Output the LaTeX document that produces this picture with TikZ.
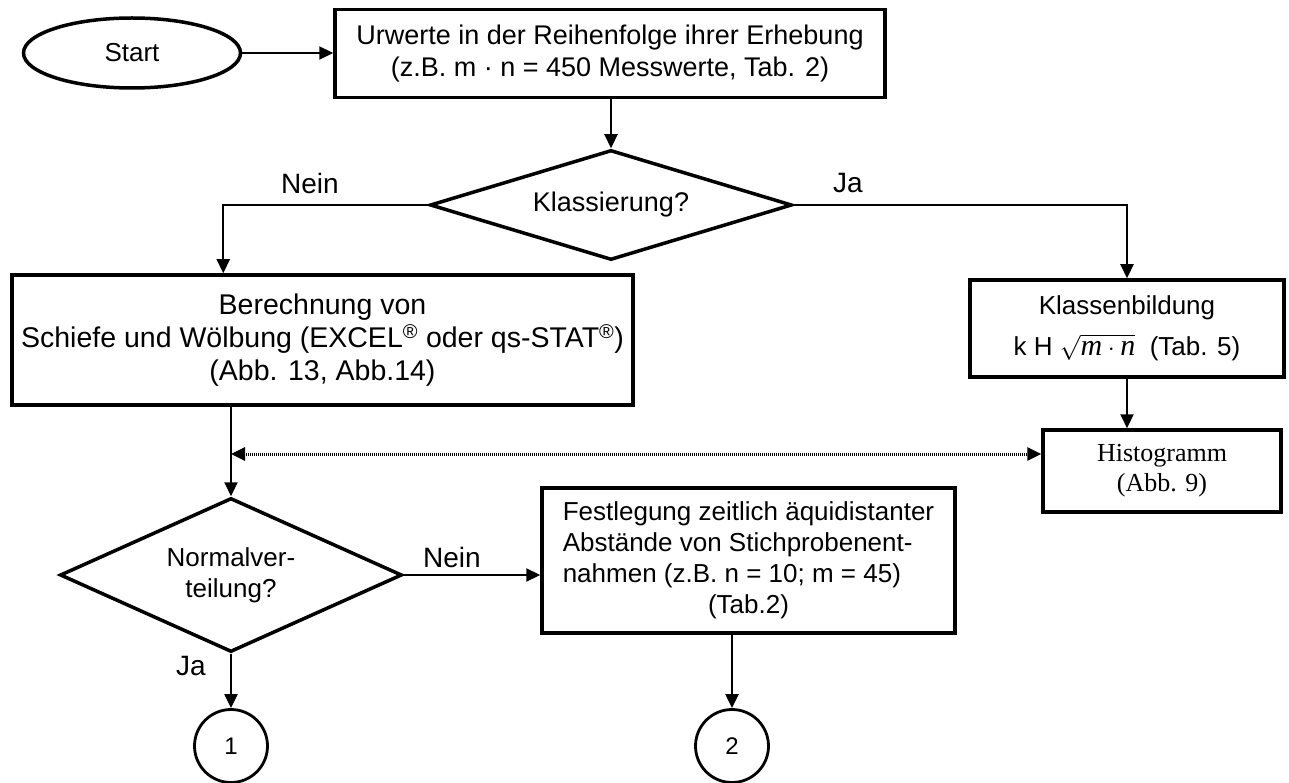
\documentclass[tikz,border=0pt]{standalone}
\usepackage{fontspec}
\setmainfont{Liberation Sans}
\newfontfamily\serifface{Liberation Serif}
\usetikzlibrary{shapes.geometric,arrows.meta,calc}

\newcommand{\fs}[1]{\fontsize{#1}{\numexpr #1*6/5\relax}\selectfont}
\newcommand{\itvar}[1]{\hbox{\fontsize{30}{30}\selectfont\serifface\itshape #1}}

\tikzset{
  base/.style={font=\fs{26}, align=center, inner sep=0pt},
  boxnode/.style={base, draw, line width=3.5pt, rectangle},
  decision/.style={base, draw, line width=3.5pt, diamond},
  terminal/.style={base, draw, line width=3.5pt, ellipse},
  connector/.style={base, font=\fs{24}, draw, line width=2.8pt, circle, minimum size=73pt},
  flow/.style={line width=2.2pt, -{Triangle[length=14pt,width=13pt]}},
  dotflow/.style={line width=3pt, dash pattern=on 1pt off 1pt,
    {Triangle[length=14pt,width=13pt]}-{Triangle[length=14pt,width=13pt]}},
  lbl/.style={font=\fs{28}, inner sep=0pt},
}

\begin{document}
\begin{tikzpicture}[x=1pt, y=-1pt]
  \useasboundingbox (0,0) rectangle (1289,783);

  % nodes
  \node[terminal, minimum width=217pt, minimum height=70pt] (start) at (132,53) {Start};
  \node[boxnode, font=\fs{27}, minimum width=550pt, minimum height=88pt] (urw) at (610,53.5)
    {Urwerte in der Reihenfolge ihrer Erhebung\\(z.B. m · n = 450 Messwerte, Tab. 2)};
  \node[decision, font=\fs{27}, aspect=3.3, minimum width=362pt, minimum height=110pt] (kla) at (611,205)
    {Klassierung?};
  \node[boxnode, font=\fontsize{28.5}{33}\selectfont, minimum width=621pt, minimum height=130pt] (ber) at (322.5,340)
    {Berechnung von\\Schiefe und Wölbung (EXCEL\textsuperscript{®} oder qs-STAT\textsuperscript{®})\\(Abb. 13, Abb.14)};
  \node[boxnode, minimum width=314pt, minimum height=97pt] (kl) at (1127,328.5)
    {Klassenbildung\\[10pt]k H $\sqrt{\itvar{m}\cdot\itvar{n}}$\ \ (Tab. 5)};
  \node[boxnode, minimum width=238pt, minimum height=82pt,
        font=\fontsize{26}{30}\selectfont\serifface] (hist) at (1162,471) {Histogramm\\(Abb. 9)};
  \node[decision, aspect=2.3, minimum width=342pt, minimum height=154pt] (nv) at (231,575)
    {Normalver-\\teilung?};
  \node[boxnode, minimum width=413pt, minimum height=145pt] (fest) at (748.5,560.5)
    {\begin{tabular}{@{}l@{}}Festlegung zeitlich äquidistanter\\Abstände von Stichprobenent-\\nahmen (z.B. n = 10; m = 45)\\\multicolumn{1}{@{}c@{}}{(Tab.2)}\end{tabular}};
  \node[connector] (c1) at (231,746) {1};
  \node[connector] (c2) at (732,746) {2};

  % branch labels
  \node[lbl] (neinA) at (310,183) {Nein};
  \node[lbl] (jaA) at (848,183) {Ja};
  \node[lbl] (neinB) at (452,557) {Nein};
  \node[lbl] (jaB) at (191,666) {Ja};

  % connectors
  \draw[flow] (start.east) -- (start.east -| urw.west);
  \draw[flow] (urw.south -| kla.north) -- (kla.north);
  \draw[flow] (kla.west) -| ([xshift=213pt]ber.north west);
  \draw[flow] (kla.east) -| (kl.north);
  \draw[flow] (kl.south) -- (kl.south |- hist.north);
  \draw[flow] (nv.north |- ber.south) -- (nv.north);
  \coordinate (tap) at (231,454);
  \draw[dotflow] (tap) -- (tap -| hist.west);
  \draw[flow] (nv.east) -- (nv.east -| fest.west);
  \draw[flow] (nv.south) -- (c1.north);
  \draw[flow] (c2.north |- fest.south) -- (c2.north);
\end{tikzpicture}
\end{document}
